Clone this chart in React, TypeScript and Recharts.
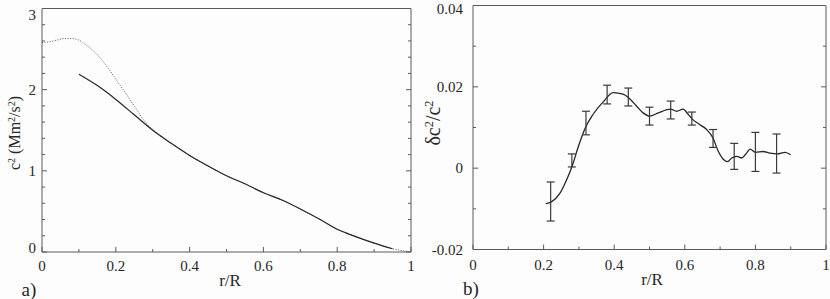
import React from 'react';
import { ComposedChart, Line, Scatter, ErrorBar, XAxis, YAxis } from 'recharts';

const FONT = '"Liberation Serif", "Times New Roman", Times, serif';
const FRAME = '#5a5a5a';
const INK = '#262626';

// ---- Panel a) : c^2 profile ----
const solidR = [0.10, 0.15, 0.20, 0.25, 0.30, 0.35, 0.40, 0.45, 0.50, 0.55, 0.60, 0.65, 0.70, 0.75, 0.80, 0.85, 0.90, 0.95];
const solidC2 = [2.19, 2.05, 1.88, 1.69, 1.50, 1.34, 1.19, 1.06, 0.94, 0.84, 0.73, 0.64, 0.53, 0.41, 0.28, 0.19, 0.11, 0.04];

const modelR = [0.00, 0.02, 0.04, 0.06, 0.08, 0.10, 0.12, 0.15, 0.18, 0.20, 0.22, 0.25, 0.28, 0.30, 0.35, 0.40, 0.45, 0.50, 0.55, 0.60, 0.65, 0.70, 0.75, 0.80, 0.85, 0.90, 0.95, 1.00];
const modelC2 = [2.58, 2.59, 2.61, 2.63, 2.63, 2.61, 2.55, 2.43, 2.26, 2.13, 2.00, 1.80, 1.60, 1.51, 1.34, 1.19, 1.06, 0.94, 0.84, 0.73, 0.64, 0.53, 0.41, 0.28, 0.19, 0.11, 0.04, 0.00];

const aXTicks = [0, 0.1, 0.2, 0.3, 0.4, 0.5, 0.6, 0.7, 0.8, 0.9, 1];
const aXMajors = [0, 0.2, 0.4, 0.6, 0.8, 1];
const aYTicks = [0, 0.2, 0.4, 0.6, 0.8, 1, 1.2, 1.4, 1.6, 1.8, 2, 2.2, 2.4, 2.6, 2.8, 3];
const aYMajors = [0, 1, 2, 3];

// ---- Panel b) : relative difference ----
const diffR = [0.206, 0.222, 0.246, 0.265, 0.282, 0.298, 0.317, 0.340, 0.369, 0.397, 0.425, 0.440, 0.463, 0.482, 0.501, 0.525, 0.560, 0.577, 0.595, 0.610, 0.622, 0.643, 0.662, 0.680, 0.695, 0.709, 0.721, 0.733, 0.747, 0.761, 0.775, 0.785, 0.800, 0.822, 0.841, 0.862, 0.884, 0.900];
const diffV = [-0.0087, -0.0083, -0.0062, -0.0029, 0.0008, 0.0052, 0.0097, 0.0132, 0.0163, 0.0186, 0.0182, 0.0174, 0.0153, 0.0136, 0.0128, 0.0136, 0.0145, 0.0140, 0.0145, 0.0132, 0.0120, 0.0107, 0.0095, 0.0074, 0.0041, 0.0022, 0.0016, 0.0025, 0.0029, 0.0025, 0.0037, 0.0047, 0.0039, 0.0041, 0.0037, 0.0035, 0.0039, 0.0033];

const errR = [0.22, 0.28, 0.32, 0.38, 0.44, 0.50, 0.56, 0.62, 0.68, 0.74, 0.80, 0.86];
const errV = [-0.0082, 0.0019, 0.0111, 0.0181, 0.0175, 0.0128, 0.0143, 0.0122, 0.0073, 0.0029, 0.0040, 0.0036];
const errSize = [0.0048, 0.0016, 0.0029, 0.0023, 0.0022, 0.0022, 0.0022, 0.0016, 0.0022, 0.0032, 0.0048, 0.0048];

const bXTicks = aXTicks;
const bXMajors = aXMajors;
const bYTicks = [-0.02, -0.01, 0, 0.01, 0.02, 0.03, 0.04];
const bYMajors = [-0.02, 0, 0.02, 0.04];

const solidData = solidR.map((r, i) => ({ r, v: solidC2[i] }));
const modelData = modelR.map((r, i) => ({ r, v: modelC2[i] }));
const diffData = diffR.map((r, i) => ({ r, v: diffV[i] }));
const errData = errR.map((r, i) => ({ r, v: errV[i], e: errSize[i] }));

const fmtNum = (v: number) => {
  if (Math.abs(v) < 1e-12) return '0';
  if (Math.abs(v - 1) < 1e-12) return '1';
  return String(Number(v.toFixed(4)));
};

type TickCfg = {
  side: 'bottom' | 'top' | 'left' | 'right';
  majors: number[];
  labels?: boolean;
  gap?: number;
  shift?: (v: number) => number;
};

const makeTick = (cfg: TickCfg) => (props: any) => {
  const { x, y, payload } = props;
  const v = payload.value as number;
  const major = cfg.majors.some((m) => Math.abs(m - v) < 1e-9);
  const len = major ? 5 : 3;
  const gap = cfg.gap ?? 8;
  const textStyle = { fontFamily: FONT, fontSize: 15, fill: INK } as any;
  let line: any = null;
  let label: any = null;
  if (cfg.side === 'bottom') {
    line = <line x1={x} x2={x} y1={y} y2={y - len} stroke={FRAME} strokeWidth={1} />;
    if (cfg.labels && major)
      label = (
        <text x={x} y={y + gap} textAnchor="middle" dominantBaseline="central" style={textStyle}>
          {fmtNum(v)}
        </text>
      );
  } else if (cfg.side === 'top') {
    line = <line x1={x} x2={x} y1={y} y2={y + len} stroke={FRAME} strokeWidth={1} />;
  } else if (cfg.side === 'left') {
    line = <line x1={x} x2={x + len} y1={y} y2={y} stroke={FRAME} strokeWidth={1} />;
    if (cfg.labels && major) {
      const dy = cfg.shift ? cfg.shift(v) : 0;
      label = (
        <text x={x - gap} y={y + dy} textAnchor="end" dominantBaseline="central" style={textStyle}>
          {fmtNum(v)}
        </text>
      );
    }
  } else {
    line = <line x1={x} x2={x - len} y1={y} y2={y} stroke={FRAME} strokeWidth={1} />;
  }
  return (
    <g>
      {line}
      {label}
    </g>
  );
};

const axisLine = { stroke: FRAME, strokeWidth: 1 };

const commonAxis = {
  tickLine: false,
  tickSize: 0,
  tickMargin: 0,
  interval: 0 as const,
  allowDataOverflow: true,
  axisLine,
  type: 'number' as const,
};

const aShift = (v: number) => (Math.abs(v - 3) < 1e-9 ? 6 : Math.abs(v) < 1e-9 ? -4 : 0);
const bShift = (v: number) => (Math.abs(v - 0.04) < 1e-9 ? 3 : 0);

function PanelA() {
  return (
    <ComposedChart width={415} height={299} margin={{ top: 7.5, right: 3, bottom: 46, left: 41 }}>
      <XAxis xAxisId="b" dataKey="r" domain={[0, 1]} ticks={aXTicks} height={1} {...commonAxis}
        tick={makeTick({ side: 'bottom', majors: aXMajors, labels: true, gap: 14 })} />
      <XAxis xAxisId="t" orientation="top" domain={[0, 1]} ticks={aXTicks} height={1} {...commonAxis}
        tick={makeTick({ side: 'top', majors: aXMajors })} />
      <YAxis yAxisId="l" dataKey="v" domain={[0, 3]} ticks={aYTicks} width={1} {...commonAxis}
        tick={makeTick({ side: 'left', majors: aYMajors, labels: true, gap: 6, shift: aShift })} />
      <YAxis yAxisId="r" orientation="right" domain={[0, 3]} ticks={aYTicks} width={1} {...commonAxis}
        tick={makeTick({ side: 'right', majors: aYMajors })} />
      <Line xAxisId="b" yAxisId="l" data={modelData} dataKey="v" type="monotone" dot={false}
        stroke="#555" strokeWidth={1} strokeDasharray="1 1.6" isAnimationActive={false} />
      <Line xAxisId="b" yAxisId="l" data={solidData} dataKey="v" type="monotone" dot={false}
        stroke={INK} strokeWidth={1.2} isAnimationActive={false} />
    </ComposedChart>
  );
}

function PanelB() {
  return (
    <ComposedChart width={415} height={299} margin={{ top: 4.5, right: 3, bottom: 48.5, left: 57 }}>
      <XAxis xAxisId="b" dataKey="r" domain={[0, 1]} ticks={bXTicks} height={1} {...commonAxis}
        tick={makeTick({ side: 'bottom', majors: bXMajors, labels: true, gap: 15.5 })} />
      <XAxis xAxisId="t" orientation="top" domain={[0, 1]} ticks={bXTicks} height={1} {...commonAxis}
        tick={makeTick({ side: 'top', majors: bXMajors })} />
      <YAxis yAxisId="l" dataKey="v" domain={[-0.02, 0.04]} ticks={bYTicks} width={1} {...commonAxis}
        tick={makeTick({ side: 'left', majors: bYMajors, labels: true, gap: 10, shift: bShift })} />
      <YAxis yAxisId="r" orientation="right" domain={[-0.02, 0.04]} ticks={bYTicks} width={1} {...commonAxis}
        tick={makeTick({ side: 'right', majors: bYMajors })} />
      <Line xAxisId="b" yAxisId="l" data={diffData} dataKey="v" type="monotone" dot={false}
        stroke={INK} strokeWidth={1.3} isAnimationActive={false} />
      <Scatter xAxisId="b" yAxisId="l" data={errData} dataKey="v" shape={() => <g />} isAnimationActive={false}>
        <ErrorBar dataKey="e" direction="y" width={4} stroke="#3a3a3a" strokeWidth={1.2} isAnimationActive={false} />
      </Scatter>
    </ComposedChart>
  );
}

const textBase: React.CSSProperties = {
  position: 'absolute',
  fontFamily: FONT,
  color: INK,
  whiteSpace: 'nowrap',
  lineHeight: 1,
  transform: 'translate(-50%, -50%)',
};

const supStyle: React.CSSProperties = { fontSize: '0.62em', verticalAlign: '0.55em', lineHeight: 0 };

export default function App() {
  return (
    <div style={{ position: 'absolute', left: 0, top: 0, width: 830, height: 299, background: '#fdfdfd', overflow: 'hidden' }}>
      <div style={{ position: 'absolute', left: 0, top: 0 }}>
        <PanelA />
      </div>
      <div style={{ position: 'absolute', left: 415, top: 0 }}>
        <PanelB />
      </div>
      <div style={{ ...textBase, left: 230, top: 280, fontSize: 17 }}>r/R</div>
      <div style={{ ...textBase, left: 652, top: 279, fontSize: 17 }}>r/R</div>
      <div style={{ ...textBase, left: 29, top: 289, fontSize: 19 }}>a)</div>
      <div style={{ ...textBase, left: 471, top: 288, fontSize: 19 }}>b)</div>
      <div style={{ ...textBase, left: 15, top: 133, fontSize: 16, transform: 'translate(-50%, -50%) rotate(-90deg)' }}>
        c<span style={supStyle}>2</span> (Mm<span style={supStyle}>2</span>/s<span style={supStyle}>2</span>)
      </div>
      <div style={{ ...textBase, left: 433, top: 123, fontSize: 20, transform: 'translate(-50%, -50%) rotate(-90deg)' }}>
        δc<span style={supStyle}>2</span>/c<span style={supStyle}>2</span>
      </div>
    </div>
  );
}
